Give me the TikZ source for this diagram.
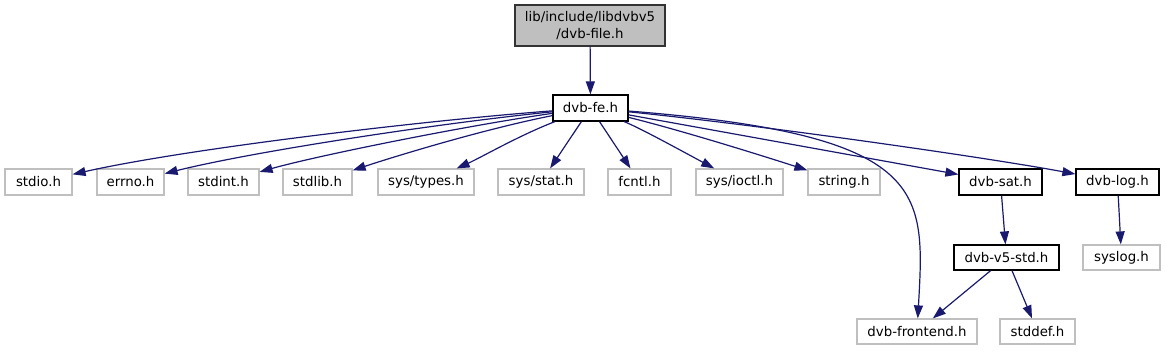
\documentclass[tikz,border=0pt]{standalone}
\usepackage{fontspec}
\setmainfont{DejaVu Sans}
\usetikzlibrary{arrows.meta}
\definecolor{edgec}{HTML}{191970}
\definecolor{greyb}{HTML}{BFBFBF}
\begin{document}
\begin{tikzpicture}[x=1pt,y=-1pt,
  box/.style={draw=black,line width=1.2pt,fill=white,inner sep=0pt,minimum height=26pt,font=\fontsize{13.33}{17}\selectfont,text=black},
  gbox/.style={box,draw=greyb},
  topbox/.style={box,fill=greyb,draw=black!80,align=center,minimum height=41pt},
  edge/.style={draw=edgec,line width=1.2pt,-{Triangle[length=13pt,width=9pt]}}]
\useasboundingbox (0,0) rectangle (1165,351);
\node[topbox,minimum width=150pt] (top) at (590,25.5) {lib/include/libdvbv5\\/dvb-file.h};
\node[box,minimum width=75pt] (fe) at (590.5,108) {dvb-fe.h};
\node[gbox,minimum width=67pt] (stdio) at (38.5,182) {stdio.h};
\node[gbox,minimum width=67pt] (errno) at (130.5,182) {errno.h};
\node[gbox,minimum width=71pt] (stdint) at (223.5,182) {stdint.h};
\node[gbox,minimum width=69pt] (stdlib) at (317.5,182) {stdlib.h};
\node[gbox,minimum width=96pt] (types) at (426,182) {sys/types.h};
\node[gbox,minimum width=86pt] (stat) at (541,182) {sys/stat.h};
\node[gbox,minimum width=63pt] (fcntl) at (639.5,182) {fcntl.h};
\node[gbox,minimum width=87pt] (ioctl) at (739.5,182) {sys/ioctl.h};
\node[gbox,minimum width=72pt] (string) at (844,182) {string.h};
\node[box,minimum width=83pt] (sat) at (1000.5,182) {dvb-sat.h};
\node[box,minimum width=83pt] (log) at (1117.5,182) {dvb-log.h};
\node[box,minimum width=105pt,minimum height=25pt] (v5std) at (1006.5,257.5) {dvb-v5-std.h};
\node[gbox,minimum width=77pt,minimum height=25pt] (syslog) at (1121.5,257.5) {syslog.h};
\node[gbox,minimum width=120pt,minimum height=25pt] (frontend) at (917,331.5) {dvb-frontend.h};
\node[gbox,minimum width=75pt,minimum height=25pt] (stddef) at (1037.5,331.5) {stddef.h};
\draw[edge] (top) -- (fe);
\draw[edge] (fe) .. controls (430,120) and (190,148) .. (stdio);
\draw[edge] (fe) .. controls (450,122) and (260,150) .. (errno);
\draw[edge] (fe) .. controls (470,125) and (320,155) .. (stdint);
\draw[edge] (fe) .. controls (480,130) and (390,158) .. (stdlib);
\draw[edge] (fe) .. controls (520,135) and (480,158) .. (types);
\draw[edge] (fe) -- (stat);
\draw[edge] (fe) -- (fcntl);
\draw[edge] (fe) .. controls (640,128) and (680,150) .. (ioctl);
\draw[edge] (fe) .. controls (680,130) and (760,155) .. (string);
\draw[edge] (fe) -- (sat);
\draw[edge] (fe) .. controls (760,125) and (990,158) .. (log);
\draw[edge] (fe) .. controls (930,135) and (925,190) .. (frontend);
\draw[edge] (sat) -- (v5std);
\draw[edge] (log) -- (syslog);
\draw[edge] (v5std) -- (frontend);
\draw[edge] (v5std) -- (stddef);
\end{tikzpicture}
\end{document}
